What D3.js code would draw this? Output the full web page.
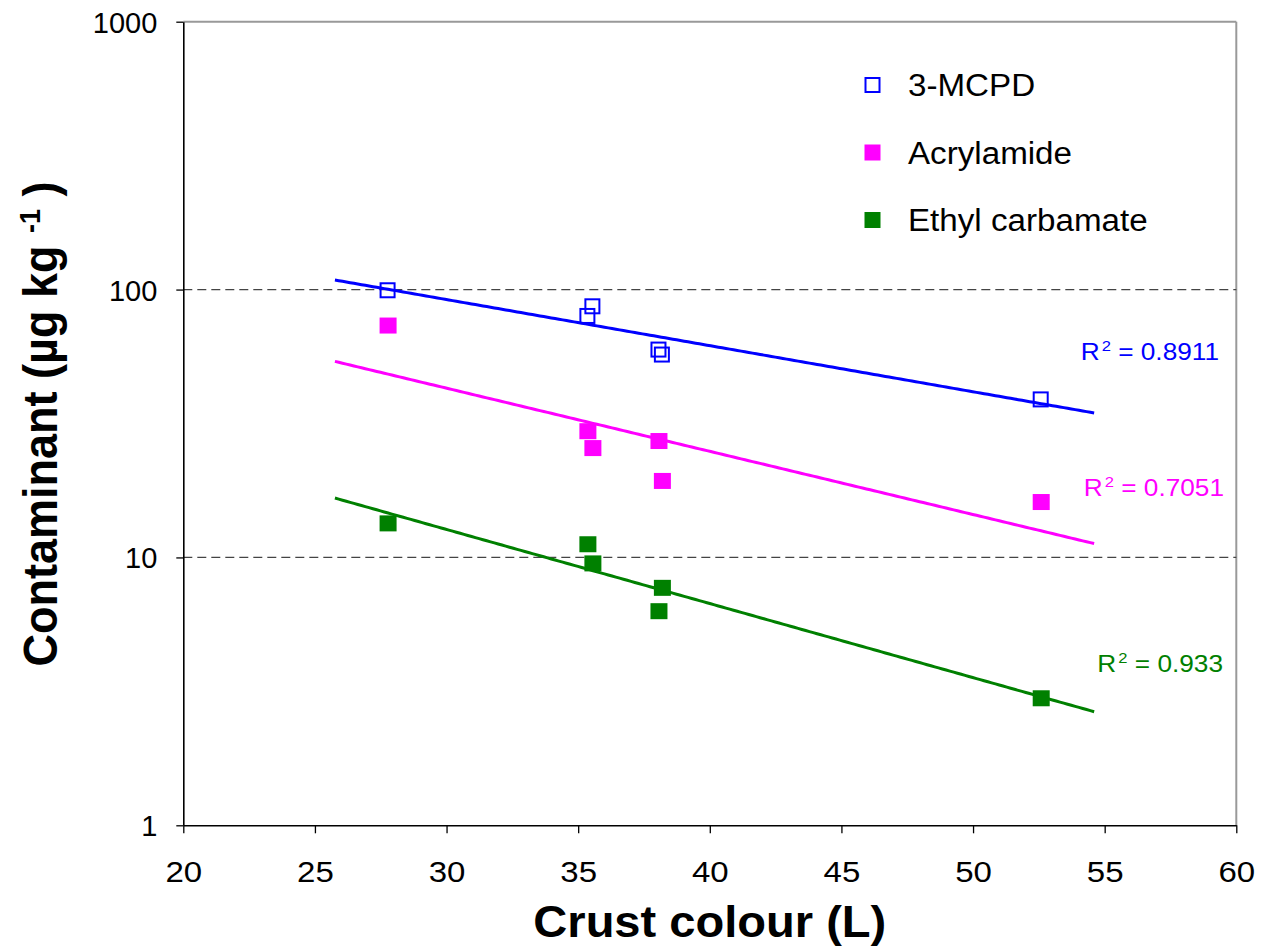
<!DOCTYPE html>
<html>
<head>
<meta charset="utf-8">
<script src="https://cdn.jsdelivr.net/npm/d3@7"></script>
<style>
  body { margin: 0; background: #fff; }
  svg { display: block; }
  text { font-family: "Liberation Sans", Arial, Helvetica, sans-serif; }
</style>
</head>
<body>
<svg id="chart" width="1271" height="950"></svg>
<script>
// Crust colour (L) of each sample and the contaminant levels measured (µg/kg)
const crustL = [27.76, 35.35, 35.54, 38.05, 38.18, 52.57];
const mcpd = [99.4, 79.7, 86.6, 59.7, 57.2, 38.9];
const acrylamide = [73.4, 29.6, 25.6, 27.2, 19.3, 16.1];
const ethylCarbamate = [13.4, 11.2, 9.5, 6.3, 7.7, 2.98];

const seriesNames = ["3-MCPD", "Acrylamide", "Ethyl carbamate"];
const seriesColors = ["#0000FF", "#FF00FF", "#008000"];
const rSquaredLabels = ["0.8911", "0.7051", "0.933"];

const xTicks = [20, 25, 30, 35, 40, 45, 50, 55, 60];
const yTicks = [1, 10, 100, 1000];
const yGridValues = [10, 100];
// exponential trendlines run two units beyond the data on each side
const trendRange = [25.76, 54.6];

const W = 1271, H = 950;
const margin = { top: 21.7, right: 34.7, bottom: 124.7, left: 183.3 };
const SX = 1.07; // horizontal text stretch

const svg = d3.select("#chart");
const x = d3.scaleLinear().domain([20, 60]).range([margin.left, W - margin.right]);
const y = d3.scaleLog().domain([1, 1000]).range([H - margin.bottom, margin.top]);

const series = [mcpd, acrylamide, ethylCarbamate].map((vals, i) => ({
  name: seriesNames[i],
  color: seriesColors[i],
  r2: rSquaredLabels[i],
  hollow: i === 0,
  points: vals.map((v, j) => ({ x: crustL[j], y: v }))
}));

// least-squares fit of ln(y) on x  ->  y = a * exp(b x)
function expFit(pts) {
  const mx = d3.mean(pts, p => p.x);
  const my = d3.mean(pts, p => Math.log(p.y));
  let sxy = 0, sxx = 0;
  pts.forEach(p => { sxy += (p.x - mx) * (Math.log(p.y) - my); sxx += (p.x - mx) ** 2; });
  const b = sxy / sxx;
  const lnA = my - b * mx;
  return xv => Math.exp(lnA + b * xv);
}

// plot frame: grey top and right edges
svg.append("line").attr("x1", x(20)).attr("x2", x(60)).attr("y1", y(1000)).attr("y2", y(1000))
  .attr("stroke", "#999").attr("stroke-width", 2);
svg.append("line").attr("x1", x(60)).attr("x2", x(60)).attr("y1", y(1000)).attr("y2", y(1))
  .attr("stroke", "#999").attr("stroke-width", 2);

// dashed gridlines
svg.append("g").selectAll("line").data(yGridValues).join("line")
  .attr("x1", x(20)).attr("x2", x(60))
  .attr("y1", d => y(d)).attr("y2", d => y(d))
  .attr("stroke", "#444").attr("stroke-width", 1.3)
  .attr("stroke-dasharray", "9,5");

// axes
const xAxis = svg.append("g").attr("transform", `translate(0,${y(1)})`)
  .call(d3.axisBottom(x).tickValues(xTicks).tickSize(8).tickSizeOuter(0).tickPadding(8));
const yAxis = svg.append("g").attr("transform", `translate(${x(20)},0)`)
  .call(d3.axisLeft(y).tickValues(yTicks).tickFormat(d3.format("d")).tickSize(7).tickSizeOuter(0).tickPadding(19));
[xAxis, yAxis].forEach(ax => {
  ax.select(".domain").attr("stroke", "#000").attr("stroke-width", 1.6);
  ax.selectAll(".tick line").attr("stroke", "#000").attr("stroke-width", 1.3);
  ax.selectAll(".tick text").attr("fill", "#000")
    .attr("font-family", '"Liberation Sans", Arial, sans-serif');
});
yAxis.selectAll(".tick text").attr("font-size", 29).attr("dy", "0.36em");
xAxis.selectAll(".tick text").attr("font-size", 30).attr("dy", null).attr("y", 0)
  .attr("transform", "translate(0,57) scale(1.1,1)");

// trendlines
const lineGen = d3.line().x(d => x(d.x)).y(d => y(d.y));
series.forEach(s => {
  const f = expFit(s.points);
  const samples = d3.range(0, 201).map(k => {
    const xv = trendRange[0] + (trendRange[1] - trendRange[0]) * k / 200;
    return { x: xv, y: f(xv) };
  });
  svg.append("path").datum(samples).attr("d", lineGen)
    .attr("fill", "none").attr("stroke", s.color).attr("stroke-width", 3);
});

// markers
const MS = 16;
series.forEach(s => {
  svg.append("g").selectAll("rect").data(s.points).join("rect")
    .attr("x", d => x(d.x) - MS / 2 + (s.hollow ? 1 : 0))
    .attr("y", d => y(d.y) - MS / 2 + (s.hollow ? 1 : 0))
    .attr("width", s.hollow ? MS - 2 : MS + 1)
    .attr("height", s.hollow ? MS - 2 : MS)
    .attr("fill", s.hollow ? "none" : s.color)
    .attr("stroke", s.hollow ? s.color : "none")
    .attr("stroke-width", 2);
});

// R² labels beside the end of each trendline
const r2Pos = [{ x: 1219, y: 360 }, { x: 1224, y: 496 }, { x: 1223, y: 672 }];
series.forEach((s, i) => {
  const t = svg.append("text")
    .attr("transform", `translate(${r2Pos[i].x},${r2Pos[i].y}) scale(${SX},1)`)
    .attr("text-anchor", "end").attr("fill", s.color).attr("font-size", 24.5);
  t.append("tspan").text("R");
  t.append("tspan").attr("font-size", 15.5).attr("dy", -9.5).attr("dx", 2).text("2");
  t.append("tspan").attr("dy", 9.5).text(" = " + s.r2);
});

// legend
const legend = svg.append("g");
series.forEach((s, i) => {
  const cy = 85 + i * 67.5;
  legend.append("rect")
    .attr("x", 872.5 - MS / 2 + (s.hollow ? 1 : 0)).attr("y", cy - MS / 2 + (s.hollow ? 1 : 0))
    .attr("width", s.hollow ? MS - 2 : MS).attr("height", s.hollow ? MS - 2 : MS)
    .attr("fill", s.hollow ? "none" : s.color)
    .attr("stroke", s.hollow ? s.color : "none").attr("stroke-width", 2);
  legend.append("text")
    .attr("transform", `translate(908,${cy + 11}) scale(${SX},1)`)
    .attr("font-size", 31).attr("fill", "#000").text(s.name);
});

// axis titles
svg.append("text")
  .attr("transform", `translate(${x(40)},937) scale(${SX},1)`)
  .attr("text-anchor", "middle").attr("font-size", 44).attr("font-weight", "bold")
  .text("Crust colour (L)");

const yt = svg.append("text")
  .attr("transform", `translate(57,424) scale(${SX},1) rotate(-90)`)
  .attr("text-anchor", "middle").attr("font-size", 45).attr("font-weight", "bold");
yt.append("tspan").text("Contaminant (µg kg  ");
yt.append("tspan").attr("font-size", 27).attr("dy", -16).text("-1");
yt.append("tspan").attr("dy", 16).text(" )");
</script>
</body>
</html>
